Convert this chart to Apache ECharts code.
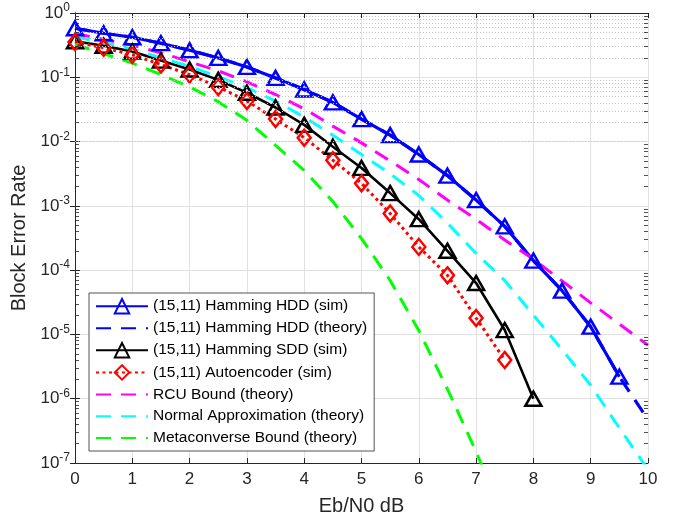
<!DOCTYPE html>
<html>
<head>
<meta charset="utf-8">
<script src="https://cdn.jsdelivr.net/npm/echarts@6/dist/echarts.min.js"></script>
<style>
  html, body { margin: 0; padding: 0; background: #fff; }
  #chart { width: 673px; height: 521px; }
</style>
</head>
<body>
<div id="chart"></div>
<script>
// Eb/N0 points (dB)
var ebn0 = [0, 0.5, 1, 1.5, 2, 2.5, 3, 3.5, 4, 4.5, 5, 5.5, 6, 6.5, 7, 7.5, 8, 8.5, 9, 9.5, 10];

// block error rates
var hddSim = [0.579, 0.484, 0.420, 0.339, 0.263, 0.200, 0.145, 0.0977, 0.0646, 0.0407, 0.0224,
  0.0126, 0.0063, 0.00295, 0.00123, 4.8e-4, 1.41e-4, 4.8e-5, 1.32e-5, 2.2e-6];
var hddTheory = [0.579, 0.484, 0.420, 0.339, 0.263, 0.200, 0.145, 0.0977, 0.0646, 0.0407, 0.0224,
  0.0126, 0.0063, 0.00295, 0.00123, 4.8e-4, 1.41e-4, 4.8e-5, 1.32e-5, 2.2e-6, 4.7e-7];
var sddSim = [0.363, 0.309, 0.251, 0.182, 0.132, 0.0912, 0.0575, 0.0339, 0.0182, 0.00832, 0.00389,
  0.00158, 6.2e-4, 2.0e-4, 6.3e-5, 1.17e-5, 1.0e-6];
var aeSim = [0.355, 0.288, 0.224, 0.158, 0.110, 0.0708, 0.0427, 0.0224, 0.0115, 0.00513, 0.00224,
  7.6e-4, 2.3e-4, 8.3e-5, 1.8e-5, 4.0e-6];
var rcu = [0.479, 0.389, 0.316, 0.240, 0.174, 0.126, 0.0851, 0.0537, 0.0324, 0.0174, 0.00955,
  0.00501, 0.00257, 0.00123, 6.2e-4, 2.95e-4, 1.48e-4, 6.8e-5, 3.1e-5, 1.45e-5, 6.8e-6];
var normalApprox = [0.427, 0.347, 0.275, 0.200, 0.148, 0.102, 0.0692, 0.0427, 0.0240, 0.0126, 0.0063,
  0.00316, 0.00145, 5.4e-4, 1.82e-4, 6.9e-5, 2.0e-5, 5.8e-6, 1.62e-6, 3.5e-7, 7.9e-8];
var metaconverse = [0.324, 0.234, 0.166, 0.110, 0.0708, 0.0417, 0.0214, 0.0087, 0.00355, 0.00117,
  3.1e-4, 6.9e-5, 1.15e-5, 1.41e-6, 1.5e-7, 1.26e-8];

var names = ['(15,11) Hamming HDD (sim)', '(15,11) Hamming HDD (theory)', '(15,11) Hamming SDD (sim)',
  '(15,11) Autoencoder (sim)', 'RCU Bound (theory)', 'Normal Approximation (theory)', 'Metaconverse Bound (theory)'];
var hasMarker = [true, false, true, true, false, false, false];

var FONT = 'Liberation Sans';
var AXIS = '#262626';

function pairs(ys) {
  var out = [];
  for (var i = 0; i < ys.length; i++) out.push([ebn0[i], ys[i]]);
  return out;
}

// minor grid (2..9 x 10^k) and little ticks on the left/right edges
var minorLines = [];
var minorTicks = [];
for (var k = -7; k < 0; k++) {
  for (var m = 2; m <= 9; m++) {
    var v = m * Math.pow(10, k);
    minorLines.push({ yAxis: v });
    minorTicks.push([{ coord: [0, v] }, { coord: [0.07, v] }]);
    minorTicks.push([{ coord: [9.93, v] }, { coord: [10, v] }]);
  }
}

function simLine(name, ys, color, symbol, size, width, lineType) {
  var marked = symbol !== 'none';
  return {
    name: name, type: 'line', data: pairs(ys),
    symbol: symbol, symbolSize: size, showSymbol: marked,
    lineStyle: { color: color, width: width, type: lineType, cap: 'butt' },
    itemStyle: marked
      ? { color: 'rgba(255,255,255,0)', borderColor: color, borderWidth: 2.5 }
      : { color: 'rgba(255,255,255,0)', borderColor: 'rgba(255,255,255,0)', borderWidth: 0, opacity: 0 },
    emphasis: { disabled: true },
    z: 3
  };
}

var legendData = names.map(function (n, i) {
  return hasMarker[i] ? { name: n } : { name: n, itemStyle: { opacity: 0 } };
});

var chart = echarts.init(document.getElementById('chart'), null, { renderer: 'canvas' });

var option = {
  animation: false,
  backgroundColor: '#fff',
  textStyle: { fontFamily: FONT },
  grid: { left: 75, right: 25, top: 13, bottom: 56 },
  legend: {
    data: legendData,
    orient: 'vertical',
    left: 89, top: 293,
    padding: [5, 7, 5, 6],
    itemWidth: 52, itemHeight: 18, itemGap: 5.8,
    backgroundColor: '#fff',
    borderColor: AXIS, borderWidth: 0.8,
    textStyle: { fontFamily: FONT, fontSize: 15.5, color: '#000', lineHeight: 16 },
    selectedMode: false
  },
  xAxis: [{
    type: 'value', min: 0, max: 10, interval: 1,
    name: 'Eb/N0 dB', nameLocation: 'middle', nameGap: 33,
    nameTextStyle: { fontFamily: FONT, fontSize: 20, color: '#262626' },
    axisLine: { lineStyle: { color: AXIS, width: 1 } },
    axisTick: { inside: true, length: 5, lineStyle: { color: AXIS } },
    axisLabel: { fontFamily: FONT, fontSize: 17, color: '#262626', margin: 8 },
    splitLine: { show: true, lineStyle: { color: '#e1e1e1', width: 1 } }
  }, {
    type: 'value', min: 0, max: 10, interval: 1, position: 'top',
    axisLine: { show: true, onZero: false, lineStyle: { color: AXIS, width: 1 } },
    axisTick: { inside: true, length: 5, lineStyle: { color: AXIS } },
    axisLabel: { show: false },
    splitLine: { show: false }
  }],
  yAxis: [{
    type: 'log', logBase: 10, min: 1e-7, max: 1,
    name: 'Block Error Rate', nameLocation: 'middle', nameGap: 39,
    nameTextStyle: { fontFamily: FONT, fontSize: 20, color: '#262626' },
    axisLine: { show: true, lineStyle: { color: AXIS, width: 1 } },
    axisTick: { inside: true, length: 5, lineStyle: { color: AXIS } },
    axisLabel: {
      margin: 5, color: '#262626',
      formatter: function (val) {
        var e = Math.round(Math.log10(val));
        return '{b|10}{s|' + e + '}';
      },
      rich: {
        b: { fontFamily: FONT, fontSize: 17, color: '#262626' },
        s: { fontFamily: FONT, fontSize: 12, color: '#262626', padding: [0, 0, 10, 0] }
      }
    },
    splitLine: { show: true, lineStyle: { color: '#e1e1e1', width: 1 } }
  }, {
    type: 'log', logBase: 10, min: 1e-7, max: 1, position: 'right',
    axisLine: { show: true, lineStyle: { color: AXIS, width: 1 } },
    axisTick: { inside: true, length: 5, lineStyle: { color: AXIS } },
    axisLabel: { show: false },
    splitLine: { show: false }
  }],
  series: [
    {
      name: 'grid-minor', type: 'line', data: [[0, 1e-7]], symbol: 'none',
      lineStyle: { width: 0 }, silent: true, z: 1,
      markLine: {
        silent: true, symbol: ['none', 'none'], label: { show: false },
        lineStyle: { color: '#c4c4c4', width: 1, type: [1, 2] },
        emphasis: { disabled: true },
        data: minorLines
      }
    },
    {
      name: 'tick-minor', type: 'line', data: [[0, 1e-7]], symbol: 'none',
      lineStyle: { width: 0 }, silent: true, z: 5,
      markLine: {
        silent: true, symbol: ['none', 'none'], label: { show: false },
        lineStyle: { color: AXIS, width: 0.8, type: 'solid' },
        emphasis: { disabled: true },
        data: minorTicks
      }
    },
    simLine(names[0], hddSim, '#0000ff', 'triangle', [16, 14], 3.2, 'solid'),
    simLine(names[1], hddTheory, '#0000ff', 'none', 0, 3.2, [15, 10]),
    simLine(names[2], sddSim, '#000000', 'triangle', [16, 14], 2.6, 'solid'),
    simLine(names[3], aeSim, '#ff0000', 'diamond', [13, 16], 3, [3, 3.5]),
    simLine(names[4], rcu, '#ff00ff', 'none', 0, 3, [15, 10]),
    simLine(names[5], normalApprox, '#00ffff', 'none', 0, 3, [15, 10]),
    simLine(names[6], metaconverse, '#00ff00', 'none', 0, 3, [15, 10])
  ]
};

chart.setOption(option);
</script>
</body>
</html>
